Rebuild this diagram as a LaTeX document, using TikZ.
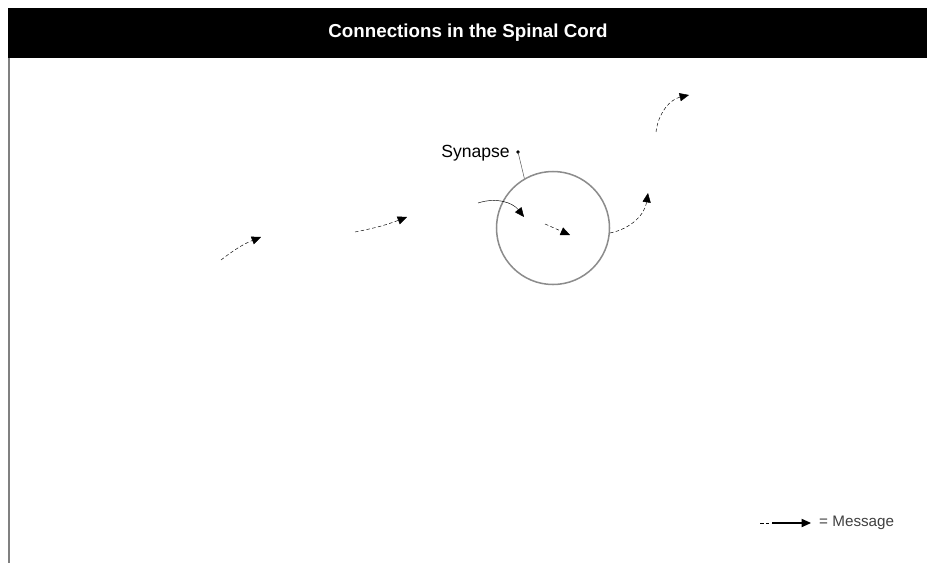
\documentclass[tikz,border=0pt]{standalone}
\usepackage{fontspec}
\setmainfont{Liberation Sans}
\usepackage{xcolor}
\usepackage{tikz}
\usetikzlibrary{shapes,arrows.meta,positioning,calc}

\begin{document}
\begin{tikzpicture}[x=0.03cm,y=-0.03cm,
    msg/.style={densely dashed,thin,-{Triangle[length=8pt,width=7pt]}},
    tick/.style={thin,black!70}]
            \useasboundingbox (0,0) rectangle (927,563);

            % Frame and title
            \fill[black] (8,8) rectangle (927,58);
            \draw[black!50,line width=1pt] (9,58) -- (9,563);
            \node[text=white,font=\bfseries\fontsize{16}{19}\selectfont] (title) at (468,33) {Connections in the Spinal Cord};

            % Synapse
            \node[draw=black!45,circle,line width=1.3pt,minimum size=113*0.03cm,inner sep=0pt] (syn) at (553,228) {};
            \node[font=\fontsize{15}{17}\selectfont,anchor=east,inner sep=0pt] (synlbl) at (510,153) {Synapse};
            \fill (518,152) circle (1.6pt) coordinate (syndot);
            \draw[tick] (syndot) -- (syn.120);

            % Messages
            \coordinate (m1s) at (221,260);
            \coordinate (m1e) at (261,237);
            \draw[msg] (m1s) to[bend left=8] (m1e);
            \coordinate (m2s) at (355,232);
            \coordinate (m2e) at (407,217);
            \draw[msg] (m2s) to[bend right=5] (m2e);
            \coordinate (m3s) at (478,203);
            \coordinate (m3e) at (524,217);
            \draw[thin,-{Triangle[length=8pt,width=7pt]}] (m3s) to[bend left=35] (m3e);
            \coordinate (m4s) at (545,224);
            \coordinate (m4e) at (570,235);
            \draw[msg] (m4s) -- (m4e);
            \draw[msg] (syn.-5) to[bend right=35] (648,193);
            \coordinate (m6s) at (656,132);
            \coordinate (m6e) at (689,95);
            \draw[msg] (m6s) to[bend left=35] (m6e);

            % Legend
            \coordinate (lg1) at (760,523);
            \coordinate (lg2) at (811,523);
            \draw[densely dashed,thin] (lg1) -- ++(12,0) coordinate (lg3);
            \draw[line width=1pt,-{Triangle[length=8pt,width=7pt]}] (lg3) -- (lg2);
            \node[font=\fontsize{13}{15}\selectfont,anchor=west,inner sep=0pt,text=black!75] (lgtext) at (819,523) {= Message};
        \end{tikzpicture}
\end{document}
